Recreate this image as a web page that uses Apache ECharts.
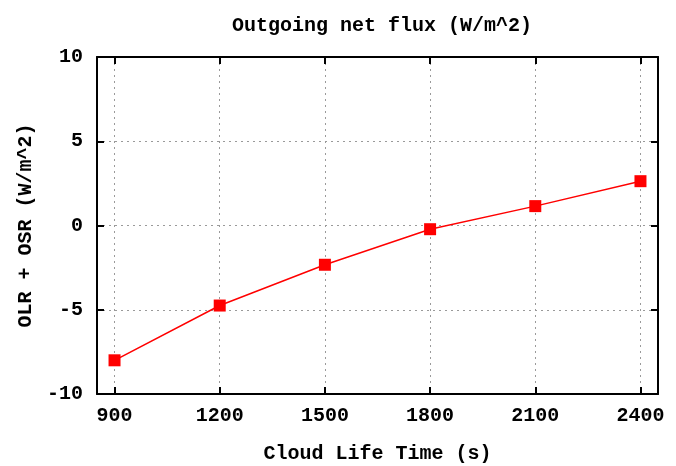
<!DOCTYPE html>
<html>
<head>
<meta charset="utf-8">
<script src="https://cdn.jsdelivr.net/npm/echarts@6/dist/echarts.min.js"></script>
<style>
  html, body { margin: 0; padding: 0; background: #fff; }
  #chart { width: 676px; height: 466px; }
</style>
</head>
<body>
<div id="chart"></div>
<script>
// Net outgoing flux against cloud life time
const lifeTimes = [900, 1200, 1500, 1800, 2100, 2400];
const netFlux = [-8.0, -4.75, -2.33, -0.22, 1.15, 2.63];
const xTicks = [900, 1200, 1500, 1800, 2100, 2400];

const FONT = '"Liberation Mono", "DejaVu Sans Mono", monospace';
const textStyle = { fontFamily: FONT, fontWeight: 'bold', fontSize: 20, color: '#000' };
const frame = { show: true, onZero: false, lineStyle: { color: '#000', width: 2 } };
const grid = { show: true, lineStyle: { color: '#9a9a9a', width: 1, type: [2, 4] } };
const inTick = (vals) => ({ show: true, inside: true, length: 7, customValues: vals,
  lineStyle: { color: '#000', width: 2 } });
const yTick = { show: true, inside: true, length: 7, lineStyle: { color: '#000', width: 2 } };

const chart = echarts.init(document.getElementById('chart'), null, { renderer: 'canvas' });
chart.setOption({
  animation: false,
  backgroundColor: '#fff',
  title: {
    text: 'Outgoing net flux (W/m^2)',
    left: 377, top: 11, textAlign: 'center',
    textStyle: textStyle
  },
  grid: { left: 97, top: 57, right: 18, bottom: 72, outerBoundsMode: 'none', containLabel: false },
  xAxis: [{
    type: 'value', min: 850, max: 2450, position: 'bottom',
    name: 'Cloud Life Time (s)', nameLocation: 'middle', nameGap: 50,
    nameTextStyle: textStyle,
    axisLine: frame,
    axisTick: inTick(xTicks),
    axisLabel: Object.assign({ customValues: xTicks, margin: 12, formatter: (v) => String(v) }, textStyle),
    splitLine: grid
  }, {
    type: 'value', min: 850, max: 2450, position: 'top',
    axisLine: frame, axisTick: inTick(xTicks), axisLabel: { show: false }, splitLine: { show: false }
  }],
  yAxis: [{
    type: 'value', min: -10, max: 10, interval: 5, position: 'left',
    name: 'OLR + OSR (W/m^2)', nameLocation: 'middle', nameGap: 61, nameRotate: 90,
    nameTextStyle: textStyle,
    axisLine: frame,
    axisTick: yTick,
    axisLabel: Object.assign({ margin: 14 }, textStyle),
    splitLine: grid
  }, {
    type: 'value', min: -10, max: 10, interval: 5, position: 'right',
    axisLine: frame, axisTick: yTick,
    axisLabel: { show: false }, splitLine: { show: false }
  }],
  series: [{
    type: 'line',
    xAxisIndex: 0, yAxisIndex: 0,
    data: lifeTimes.map((t, i) => [t, netFlux[i]]),
    symbol: 'rect', symbolSize: 12,
    itemStyle: { color: '#ff0000' },
    lineStyle: { color: '#ff0000', width: 1.5 }
  }]
});
</script>
</body>
</html>
